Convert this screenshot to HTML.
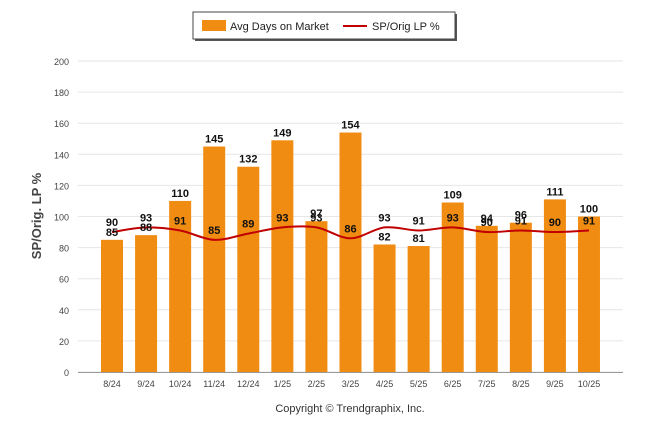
<!DOCTYPE html>
<html><head><meta charset="utf-8"><style>
body{margin:0;background:#fff;font-family:"Liberation Sans",sans-serif}
</style></head><body>
<svg width="646" height="434" xmlns="http://www.w3.org/2000/svg" font-family="Liberation Sans, sans-serif">
<g id="grid"></g>
<g id="bars"></g>
<path id="line" fill="none" stroke="#c00000" stroke-width="2"/>
<g id="labels"></g>
<text transform="translate(41,216) rotate(-90)" text-anchor="middle" font-size="13" font-weight="bold" fill="#444">SP/Orig. LP %</text>
<text x="350" y="412" text-anchor="middle" font-size="11" fill="#333">Copyright © Trendgraphix, Inc.</text>
<g>
<rect x="195" y="14" width="262" height="27" fill="#555"/>
<rect x="193" y="12" width="262" height="27" fill="#fff" stroke="#444" stroke-width="1"/>
<rect x="202" y="20" width="24" height="11" fill="#f08c12"/>
<text x="230" y="30" font-size="11" fill="#222">Avg Days on Market</text>
<line x1="343" y1="26" x2="367" y2="26" stroke="#c00000" stroke-width="2"/>
<text x="372" y="30" font-size="11" fill="#222">SP/Orig LP %</text>
</g>
</svg>
<script>
const categories=["8/24","9/24","10/24","11/24","12/24","1/25","2/25","3/25","4/25","5/25","6/25","7/25","8/25","9/25","10/25"];
const days=[85,88,110,145,132,149,97,154,82,81,109,94,96,111,100];
const spPct=[90,93,91,85,89,93,93,86,93,91,93,90,91,90,91];
const yTicks=[0,20,40,60,80,100,120,140,160,180,200];
const NS="http://www.w3.org/2000/svg";
const y=v=>372-v*(311/200);
const x=i=>112+i*34.07;
function mk(t,a,p){const e=document.createElementNS(NS,t);for(const k in a)e.setAttribute(k,a[k]);p.appendChild(e);return e;}
const grid=document.getElementById('grid');
yTicks.forEach(v=>{
 const l=mk('line',{x1:78,x2:623,y1:y(v),y2:y(v),stroke:'#e6e6e6'},grid);
 
 
 const t=mk('text',{x:69,y:y(v)+4,'text-anchor':'end','font-size':9,fill:'#444'},grid);
 t.textContent=v;
 
 
});
mk('line',{x1:78,x2:623,y1:372.5,y2:372.5,stroke:'#999'},grid);
const bars=document.getElementById('bars'),labels=document.getElementById('labels');
categories.forEach((c,i)=>{
 const r=mk('rect',{x:x(i)-11,y:y(days[i]),width:22,height:372-y(days[i]),fill:'#f08c12'},bars);
 
 
 const t=mk('text',{x:x(i),y:387,'text-anchor':'middle','font-size':9,fill:'#444'},bars);
 t.textContent=c;
 
 
 const b=mk('text',{x:x(i),y:y(days[i])-4,'text-anchor':'middle','font-size':11,'font-weight':'bold',fill:'#111'},labels);
 b.textContent=days[i];
 
 
 const p=mk('text',{x:x(i),y:y(spPct[i])-6,'text-anchor':'middle','font-size':11,'font-weight':'bold',fill:'#111'},labels);
 p.textContent=spPct[i];
 
 
});
const pts=spPct.map((v,i)=>[x(i),y(v)]);
let d='M'+pts[0][0]+','+pts[0][1];
for(let i=0;i<pts.length-1;i++){
 const p0=pts[i-1]||pts[i],p1=pts[i],p2=pts[i+1],p3=pts[i+2]||p2;
 const c1=[p1[0]+(p2[0]-p0[0])/6,p1[1]+(p2[1]-p0[1])/6],c2=[p2[0]-(p3[0]-p1[0])/6,p2[1]-(p3[1]-p1[1])/6];
 d+=' C'+c1+' '+c2+' '+p2;
}
document.getElementById('line').setAttribute('d',d);
</script>
</body></html>
